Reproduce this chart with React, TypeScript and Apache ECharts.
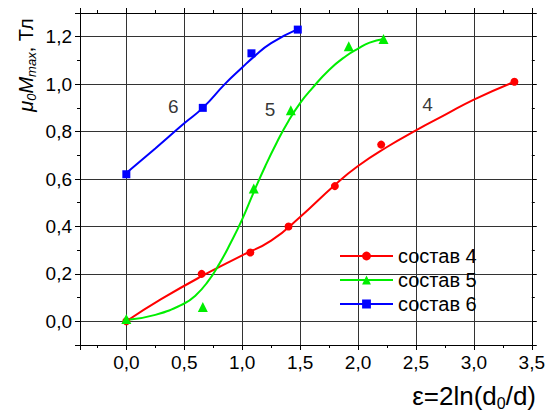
import React, { useEffect, useRef } from "react";
import * as echarts from "echarts";

// measured points
const comp4X = [0, 0.65, 1.07, 1.4, 1.8, 2.2, 3.35];
const comp4Y = [0, 0.2, 0.29, 0.4, 0.57, 0.745, 1.01];
const comp5X = [0, 0.66, 1.1, 1.42, 1.92, 2.22];
const comp5Y = [0.01, 0.06, 0.56, 0.89, 1.16, 1.19];
const comp6X = [0, 0.66, 1.08, 1.48];
const comp6Y = [0.62, 0.9, 1.13, 1.23];

// fitted curves
const fit4X = [0, 0.3, 0.65, 1.0, 1.25, 1.5, 1.8, 2.0, 2.25, 2.5, 2.75, 3.0, 3.35];
const fit4Y = [0, 0.093, 0.19, 0.278, 0.34, 0.44, 0.575, 0.655, 0.735, 0.805, 0.87, 0.935, 1.01];
const fit5X = [0, 0.25, 0.5, 0.6, 0.7, 0.8, 0.9, 1.0, 1.1, 1.2, 1.3, 1.4, 1.5, 1.6, 1.75, 1.9, 2.0, 2.1, 2.22];
const fit5Y = [0.005, 0.027, 0.075, 0.11, 0.165, 0.24, 0.33, 0.43, 0.545, 0.655, 0.755, 0.845, 0.92, 0.98, 1.06, 1.12, 1.15, 1.175, 1.19];
const fit6X = [0, 0.25, 0.5, 0.66, 0.85, 1.0, 1.1, 1.25, 1.48];
const fit6Y = [0.625, 0.729, 0.835, 0.9, 1.0, 1.07, 1.115, 1.173, 1.232];

const seriesNames = ["состав 4", "состав 5", "состав 6"];
const colors = ["#ff0000", "#00ee00", "#0000ff"];
const symbols = ["circle", "triangle", "rect"];

// curve labels
const curveLabels = ["4", "5", "6"];
const curveLabelX = [2.6, 1.24, 0.405];
const curveLabelY = [0.916, 0.895, 0.905];

const FONT = 'Arial, "Liberation Sans", sans-serif';

const zip = (xs: number[], ys: number[]) => xs.map((x, i) => [x, ys[i]]);
const fmt = (v: number) => v.toFixed(1).replace(".", ",");

export default function App() {
  const ref = useRef<HTMLDivElement>(null);
  useEffect(() => {
    if (!ref.current) return;
    const chart = echarts.init(ref.current, undefined, { renderer: "svg" });
    const pts = [zip(comp4X, comp4Y), zip(comp5X, comp5Y), zip(comp6X, comp6Y)];
    const fits = [zip(fit4X, fit4Y), zip(fit5X, fit5Y), zip(fit6X, fit6Y)];
    const gridColor = "#333";
    const axisCommon = {
      axisLine: { show: true, onZero: false, lineStyle: { color: "#000", width: 1 } },
      axisTick: { show: true, inside: false, length: 5, lineStyle: { color: "#000" } },
      minorTick: { show: true, splitNumber: 2, length: 3, lineStyle: { color: "#000" } },
    };
    chart.setOption({
      animation: false,
      textStyle: { fontFamily: FONT },
      grid: { left: 80, top: 13, right: 15, bottom: 69 },
      legend: {
        orient: "vertical",
        left: 339,
        top: 246,
        padding: 0,
        itemWidth: 53,
        itemHeight: 11,
        itemGap: 4,
        textStyle: { fontSize: 20, color: "#000", fontFamily: FONT },
        data: seriesNames.map((n, i) => ({
          name: n,
          lineStyle: { color: colors[i], width: 2, opacity: 1 },
          itemStyle: { color: colors[i] },
        })),
      },
      xAxis: [
        {
          type: "value",
          min: -0.4,
          max: 3.5,
          splitNumber: 8,
          ...axisCommon,
          axisLabel: {
            showMinLabel: false,
            fontSize: 19,
            color: "#000",
            margin: 8,
            fontFamily: FONT,
            formatter: (v: number) => fmt(v),
          },
          splitLine: { show: true, lineStyle: { color: gridColor, width: 1 } },
        },
        {
          type: "value",
          position: "top",
          min: -0.4,
          max: 3.5,
          splitNumber: 8,
          ...axisCommon,
          axisLabel: { show: false },
          splitLine: { show: false },
        },
      ],
      yAxis: [
        {
          type: "value",
          min: -0.1,
          max: 1.3,
          splitNumber: 7,
          ...axisCommon,
          axisLabel: {
            showMinLabel: false,
            showMaxLabel: false,
            fontSize: 19,
            color: "#000",
            margin: 8,
            fontFamily: FONT,
            formatter: (v: number) => fmt(v),
          },
          splitLine: { show: true, lineStyle: { color: gridColor, width: 1 } },
        },
        {
          type: "value",
          position: "right",
          min: -0.1,
          max: 1.3,
          splitNumber: 7,
          ...axisCommon,
          axisLabel: { show: false },
          splitLine: { show: false },
        },
      ],
      graphic: [
        {
          type: "text",
          x: 27,
          y: 65,
          rotation: Math.PI / 2,
          style: {
            text: "{m|μ}{s|0}{m|M}{s|max}{n|, Тл}",
            align: "center",
            verticalAlign: "middle",
            fill: "#000",
            fontFamily: FONT,
            rich: {
              m: { fontSize: 20, fontStyle: "italic", lineHeight: 22, fontFamily: FONT, fill: "#000", verticalAlign: "top" },
              s: { fontSize: 13, fontStyle: "italic", lineHeight: 22, fontFamily: FONT, fill: "#000", verticalAlign: "bottom", padding: [7, 0, 0, 0] },
              n: { fontSize: 20, lineHeight: 22, fontFamily: FONT, fill: "#000", verticalAlign: "top" },
            },
          },
        },
        {
          type: "text",
          x: 536,
          y: 397,
          style: {
            text: "{n|ε=2ln(d}{s|0}{n|/d)}",
            align: "right",
            verticalAlign: "middle",
            fill: "#000",
            fontFamily: FONT,
            rich: {
              n: { fontSize: 26, lineHeight: 28, fontFamily: FONT, fill: "#000", verticalAlign: "top" },
              s: { fontSize: 16, lineHeight: 28, fontFamily: FONT, fill: "#000", verticalAlign: "bottom", padding: [10, 0, 0, 0] },
            },
          },
        },
      ],
      series: [
        ...fits.map((d, i) => ({
          name: "fit" + i,
          type: "line",
          data: d,
          smooth: 0.5,
          showSymbol: false,
          symbol: "none",
          silent: true,
          z: 2,
          lineStyle: { color: colors[i], width: 2 },
        })),
        ...pts.map((d, i) => ({
          name: seriesNames[i],
          type: "line",
          data: d,
          symbol: symbols[i],
          symbolSize: i === 1 ? 10 : 8,
          showSymbol: true,
          z: 3,
          itemStyle: { color: colors[i] },
          lineStyle: { color: colors[i], width: 2, opacity: 0 },
        })),
        {
          name: "labels",
          type: "scatter",
          symbolSize: 0,
          silent: true,
          data: curveLabels.map((t, i) => ({ value: [curveLabelX[i], curveLabelY[i]], name: t })),
          label: {
            show: true,
            position: "inside",
            formatter: (p: any) => p.name,
            fontSize: 19,
            color: "#000",
            fontFamily: FONT,
          },
        },
      ],
    });
    return () => chart.dispose();
  }, []);
  return <div ref={ref} style={{ position: "fixed", left: 0, top: 0, width: 548, height: 414, background: "#fff" }} />;
}
